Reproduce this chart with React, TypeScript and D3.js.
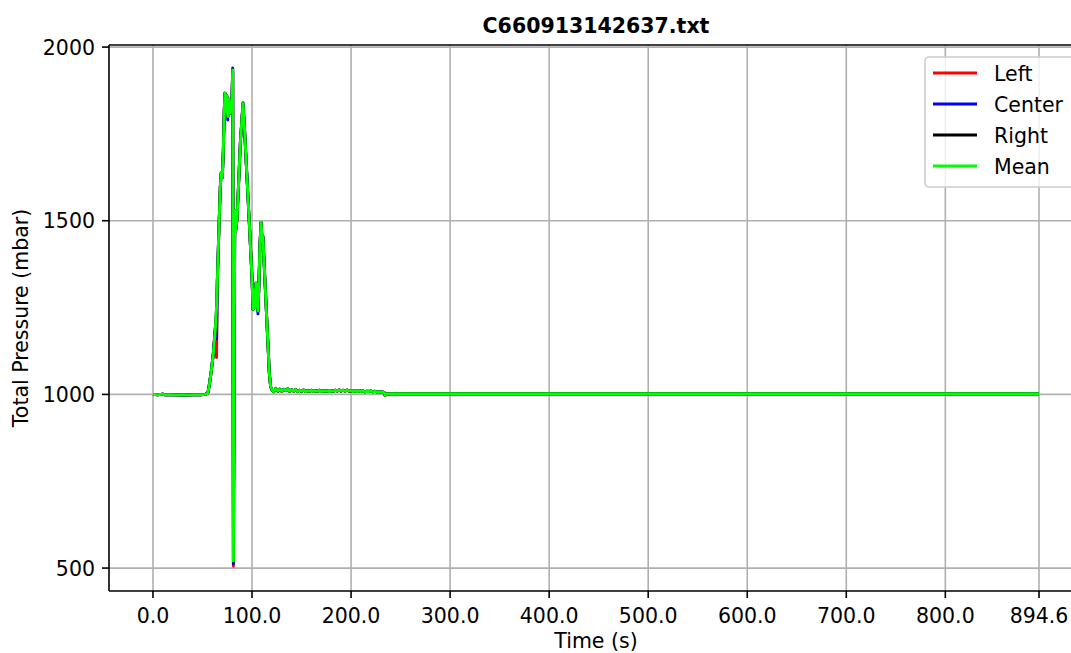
import React, { useEffect } from "react";
import * as d3 from "d3";

// Sensor record: time in seconds, total pressure in mbar
const timeS = [
  0, 5, 10, 12, 20, 30, 40, 48, 53, 55,
  55.6, 57, 59, 61, 63, 64.2, 65, 66.5, 68, 69,
  70, 71, 72, 72.7, 73.5, 74.5, 75.5, 76.5, 77.5, 78.5,
  79.5, 80.5, 81.2, 82.6, 83.5, 84.8, 86.5, 88.2, 90.9, 92.5,
  95, 97.5, 100, 101, 102, 103, 104, 105, 106, 106.8,
  108, 109.1, 110.3, 111, 113, 115.5, 117.5, 118.8,
  120, 122, 124, 126, 128, 130, 132, 134, 136, 138,
  140, 142, 144, 146, 148, 150, 152, 154, 156, 158,
  160, 162, 164, 166, 168, 170, 172, 174, 176, 178,
  180, 182, 184, 186, 188, 190, 192, 194, 196, 198,
  200, 202, 204, 206, 208, 210, 212, 214, 216, 218,
  220, 222, 224, 226, 228, 230, 232,
  233.5, 234.3, 236, 240, 250, 300, 400, 500, 600, 700, 800, 894.6,
];

const leftMbar = [
  1000, 999, 1001, 999, 999, 998, 999, 999, 1000, 1003,
  1006, 1030, 1070, 1120, 1190, 1106, 1330, 1470, 1600, 1640,
  1625, 1700, 1820, 1867, 1815, 1860, 1800, 1850, 1810, 1840,
  1825, 1930, 505, 1530, 1470, 1503, 1610, 1724, 1836, 1760,
  1620, 1480, 1335, 1245, 1300, 1250, 1320, 1280, 1240, 1300,
  1430, 1495, 1440, 1455, 1330, 1180, 1060, 1022,
  1015, 1007, 1018, 1010, 1016, 1008, 1014, 1011, 1017, 1009,
  1013, 1010, 1015, 1008, 1012, 1009, 1013, 1008, 1011, 1009,
  1012, 1008, 1011, 1009, 1012, 1008, 1011, 1009, 1010, 1008,
  1011, 1009, 1012, 1010, 1013, 1010, 1012, 1009, 1013, 1010,
  1011, 1008, 1010, 1008, 1011, 1008, 1010, 1007, 1009, 1008,
  1010, 1007, 1009, 1007, 1008, 1006, 1007,
  1005, 996, 1001, 1002, 1002, 1002, 1002, 1002, 1002, 1002, 1002, 1002,
];

const centerMbar = [
  1000, 999, 1001, 999, 999, 998, 999, 999, 1000, 1005,
  1006, 1030, 1070, 1120, 1195, 1160, 1330, 1470, 1600, 1640,
  1625, 1700, 1820, 1867, 1815, 1860, 1790, 1850, 1810, 1840,
  1825, 1940, 512, 1530, 1470, 1503, 1610, 1724, 1840, 1760,
  1620, 1480, 1335, 1245, 1300, 1250, 1320, 1280, 1232, 1300,
  1430, 1495, 1440, 1455, 1330, 1180, 1060, 1022,
  1014, 1009, 1016, 1011, 1014, 1010, 1015, 1011, 1015, 1010,
  1013, 1011, 1013, 1009, 1012, 1010, 1012, 1009, 1011, 1010,
  1012, 1009, 1011, 1010, 1012, 1009, 1011, 1010, 1010, 1009,
  1011, 1010, 1012, 1011, 1012, 1011, 1012, 1010, 1012, 1011,
  1011, 1009, 1010, 1009, 1010, 1009, 1010, 1008, 1009, 1009,
  1009, 1008, 1009, 1008, 1008, 1007, 1007,
  1005, 998, 1001, 1002, 1002, 1002, 1002, 1002, 1002, 1002, 1002, 1002,
];

const rightMbar = [
  1000, 999, 1001, 999, 999, 998, 999, 999, 1000, 1003,
  1006, 1030, 1070, 1120, 1190, 1250, 1330, 1470, 1600, 1640,
  1625, 1700, 1820, 1867, 1815, 1860, 1800, 1850, 1810, 1840,
  1825, 1934, 518, 1530, 1470, 1503, 1610, 1724, 1838, 1760,
  1620, 1480, 1335, 1245, 1300, 1250, 1320, 1280, 1240, 1300,
  1430, 1495, 1440, 1455, 1330, 1180, 1060, 1022,
  1013, 1008, 1017, 1009, 1015, 1009, 1013, 1011, 1016, 1008,
  1013, 1009, 1014, 1008, 1012, 1008, 1013, 1008, 1011, 1008,
  1012, 1008, 1011, 1008, 1012, 1008, 1011, 1008, 1010, 1008,
  1011, 1008, 1012, 1009, 1013, 1009, 1012, 1009, 1013, 1009,
  1011, 1008, 1010, 1008, 1011, 1008, 1010, 1007, 1009, 1008,
  1010, 1007, 1009, 1007, 1008, 1006, 1007,
  1005, 997, 1001, 1002, 1002, 1002, 1002, 1002, 1002, 1002, 1002, 1002,
];

const meanMbar = [
  1000, 999, 1001, 999, 999, 998, 999, 999, 1000, 1003,
  1006, 1030, 1070, 1120, 1190, 1250, 1330, 1470, 1600, 1640,
  1625, 1700, 1820, 1867, 1815, 1860, 1800, 1850, 1810, 1840,
  1825, 1934, 520, 1530, 1470, 1503, 1610, 1724, 1838, 1760,
  1620, 1480, 1335, 1245, 1300, 1250, 1320, 1280, 1240, 1300,
  1430, 1495, 1440, 1455, 1330, 1180, 1060, 1022,
  1014, 1008, 1017, 1010, 1015, 1009, 1014, 1011, 1016, 1009,
  1013, 1010, 1014, 1008, 1012, 1009, 1013, 1008, 1011, 1009,
  1012, 1008, 1011, 1009, 1012, 1008, 1011, 1009, 1010, 1008,
  1011, 1009, 1012, 1010, 1013, 1010, 1012, 1009, 1013, 1010,
  1011, 1008, 1010, 1008, 1011, 1008, 1010, 1007, 1009, 1008,
  1010, 1007, 1009, 1007, 1008, 1006, 1007,
  1005, 997, 1001, 1002, 1002, 1002, 1002, 1002, 1002, 1002, 1002, 1002,
];

const seriesNames = ["Left", "Center", "Right", "Mean"];
const seriesColors = ["#ff0000", "#0000ff", "#000000", "#00ff00"];
const seriesValues = [leftMbar, centerMbar, rightMbar, meanMbar];

const xTicks = [0, 100, 200, 300, 400, 500, 600, 700, 800, 894.6];
const yTicks = [500, 1000, 1500, 2000];

const title = "C660913142637.txt";
const xLabel = "Time (s)";
const yLabel = "Total Pressure (mbar)";

const W = 1071;
const H = 653;
const plot = { left: 109, top: 45, right: 1083, bottom: 591 };
const FONT = "'DejaVu Sans', sans-serif";
const FS = 20.5;

export default function App() {
  useEffect(() => {
    document.body.style.margin = "0";
  }, []);

  const x = d3.scaleLinear().domain([-44.4, 939.0]).range([plot.left, plot.right]);
  const y = d3.scaleLinear().domain([434, 2006]).range([plot.bottom, plot.top]);

  const line = d3
    .line<number>()
    .x((_, i) => x(timeS[i]))
    .y((v) => y(v));

  const gridColor = "#b0b0b0";

  return (
    <svg width={W} height={H} style={{ display: "block", background: "#fff" }} fontFamily={FONT}>
      <defs>
        <clipPath id="plotArea">
          <rect x={plot.left} y={plot.top} width={plot.right - plot.left} height={plot.bottom - plot.top} />
        </clipPath>
      </defs>

      {/* grid */}
      <g stroke={gridColor} strokeWidth={1.6}>
        {xTicks.map((t) => (
          <line key={"gx" + t} x1={x(t)} x2={x(t)} y1={plot.top} y2={plot.bottom} />
        ))}
        {yTicks.map((t) => (
          <line key={"gy" + t} x1={plot.left} x2={plot.right} y1={y(t)} y2={y(t)} />
        ))}
      </g>

      {/* series */}
      <g clipPath="url(#plotArea)" fill="none" strokeWidth={2.9} strokeLinejoin="round" strokeLinecap="butt">
        {seriesValues.map((vals, k) => (
          <path key={seriesNames[k]} d={line(vals) || ""} stroke={seriesColors[k]} />
        ))}
      </g>

      {/* spines */}
      <g stroke="#000" strokeWidth={1.6} fill="none">
        <line x1={plot.left} x2={plot.right} y1={plot.top} y2={plot.top} />
        <line x1={plot.left} x2={plot.right} y1={plot.bottom} y2={plot.bottom} />
        <line x1={plot.left} x2={plot.left} y1={plot.top} y2={plot.bottom} />
        <line x1={plot.right} x2={plot.right} y1={plot.top} y2={plot.bottom} />
      </g>

      {/* x axis */}
      <g fontSize={FS} fill="#000" textAnchor="middle">
        {xTicks.map((t) => (
          <g key={"xt" + t}>
            <line x1={x(t)} x2={x(t)} y1={plot.bottom} y2={plot.bottom + 7} stroke="#000" strokeWidth={1.6} />
            <text x={x(t)} y={plot.bottom + 31.5}>{t.toFixed(1)}</text>
          </g>
        ))}
        <text x={(plot.left + plot.right) / 2} y={648}>{xLabel}</text>
      </g>

      {/* y axis */}
      <g fontSize={FS} fill="#000">
        {yTicks.map((t) => (
          <g key={"yt" + t}>
            <line x1={plot.left - 7} x2={plot.left} y1={y(t)} y2={y(t)} stroke="#000" strokeWidth={1.6} />
            <text x={plot.left - 14} y={y(t) + 7.5} textAnchor="end">{t}</text>
          </g>
        ))}
        <text
          transform={`translate(28,${(plot.top + plot.bottom) / 2}) rotate(-90)`}
          textAnchor="middle"
        >
          {yLabel}
        </text>
      </g>

      {/* title */}
      <text x={(plot.left + plot.right) / 2} y={33} textAnchor="middle" fontSize={FS} fontWeight="bold">
        {title}
      </text>

      {/* legend */}
      <g>
        <rect x={925} y={57} width={150} height={130} rx={4} fill="#fff" fillOpacity={0.8} stroke="#cccccc" strokeWidth={1.6} />
        {seriesNames.map((name, k) => {
          const ly = 73 + k * 31;
          return (
            <g key={"lg" + name}>
              <line x1={933} x2={977} y1={ly} y2={ly} stroke={seriesColors[k]} strokeWidth={2.9} />
              <text x={994} y={ly + 7.5} fontSize={FS} fill="#000">{name}</text>
            </g>
          );
        })}
      </g>
    </svg>
  );
}
